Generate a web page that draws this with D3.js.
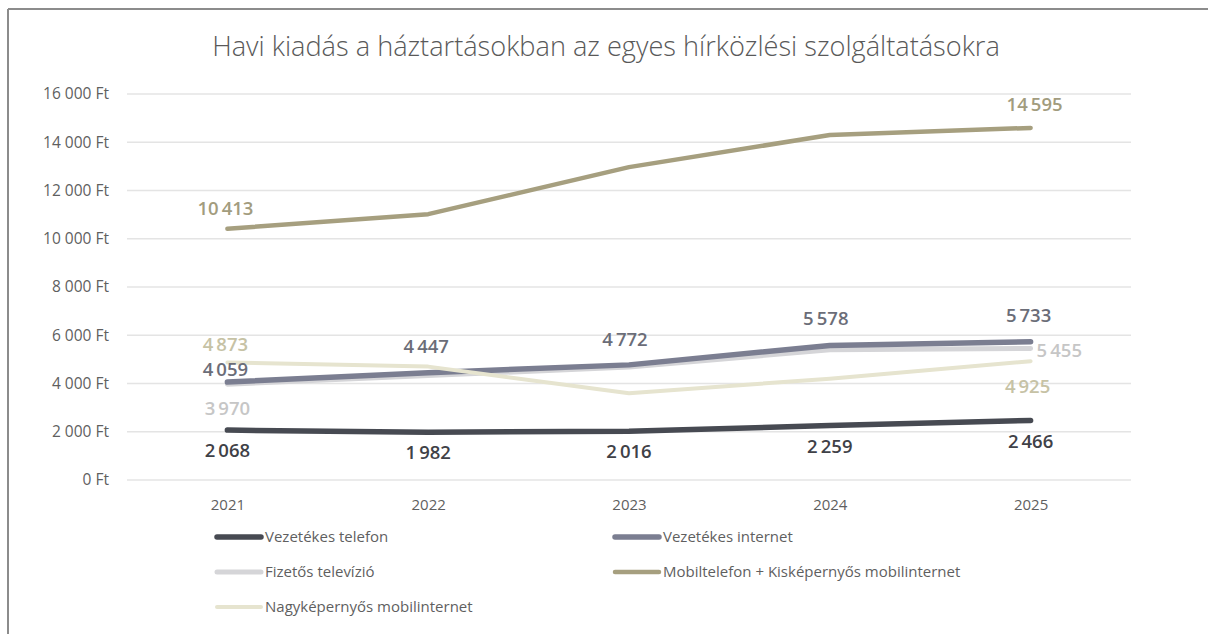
<!DOCTYPE html>
<html>
<head>
<meta charset="utf-8">
<script src="https://cdn.jsdelivr.net/npm/d3@7"></script>
<style>
  body { margin: 0; background: #fff; }
  svg { display: block; font-family: "Open Sans", sans-serif; }
</style>
</head>
<body>
<div id="holder"></div>
<script>
// data
const years = ["2021", "2022", "2023", "2024", "2025"]
const seriesNames = ["Vezetékes telefon", "Vezetékes internet", "Fizetős televízió",
  "Mobiltelefon + Kisképernyős mobilinternet", "Nagyképernyős mobilinternet"]
const telefon = [2068, 1982, 2016, 2259, 2466]
const internet = [4059, 4447, 4772, 5578, 5733]
const televizio = [3970, 4330, 4680, 5400, 5455]
const mobil = [10413, 11020, 12970, 14300, 14595]
const nagykepernyos = [4873, 4700, 3600, 4200, 4925]
const yTicks = [0, 2000, 4000, 6000, 8000, 10000, 12000, 14000, 16000]
const title = "Havi kiadás a háztartásokban az egyes hírközlési szolgáltatásokra"

const width = 1208
const height = 634

const fmt = d3.formatLocale({ decimal: ",", thousands: "\u2009", grouping: [3], currency: ["", " Ft"] }).format(",d")
const fmtAxis = d3.formatLocale({ decimal: ",", thousands: " ", grouping: [3], currency: ["", ""] }).format(",d")

// which points get a label and where (dx, dy from the point, anchor)
const series = [
  { name: seriesNames[0], values: telefon, line: "#474a52", label: "#3f4147", w: 5.5,
    labels: [[0, 27, "middle"], [0, 27, "middle"], [0, 27, "middle"], [0, 27, "middle"], [0, 27, "middle"]] },
  { name: seriesNames[2], values: televizio, line: "#d5d5d8", label: "#c6c6c6", w: 5,
    labels: [[0, 31, "middle"], null, null, null, [6, 9, "start"]] },
  { name: seriesNames[1], values: internet, line: "#7b7e91", label: "#6b6d78", w: 5.5,
    labels: [[-2, -6, "middle"], [-2, -20, "middle"], [-4, -19, "middle"], [-4, -20, "middle"], [-2, -20, "middle"]] },
  { name: seriesNames[3], values: mobil, line: "#a69f7f", label: "#a29c7e", w: 4.5,
    labels: [[-2, -14, "middle"], null, null, null, [4, -17, "middle"]] },
  { name: seriesNames[4], values: nagykepernyos, line: "#e6e4cf", label: "#c6c2a5", w: 4,
    labels: [[-2, -11, "middle"], null, null, null, [-3, 32, "middle"]] }
]

const svg = d3.select("#holder")
  .append("svg")
  .attr("width", width)
  .attr("height", height)

// screenshot frame
svg.append("line").attr("x1", 8).attr("x2", width).attr("y1", 9).attr("y2", 9)
  .attr("stroke", "#8c8c8c").attr("stroke-width", 2)
svg.append("line").attr("x1", 8).attr("x2", 8).attr("y1", 9).attr("y2", height)
  .attr("stroke", "#8c8c8c").attr("stroke-width", 2)

const x = d3.scalePoint().domain(years).range([127, 1131]).padding(0.5)
const y = d3.scaleLinear().domain([0, 16000]).range([480, 94])

// title, fitted to the width it has in the picture
const t = svg.append("text")
  .attr("x", 606)
  .attr("y", 56)
  .attr("text-anchor", "middle")
  .attr("fill", "#595959")
  .attr("font-weight", 300)
  .attr("font-size", 25)
  .text(title)
const tl = t.node().getComputedTextLength()
t.attr("font-size", 25 * 788 / tl)

// grid
svg.append("g")
  .selectAll("line")
  .data(yTicks)
  .enter()
  .append("line")
  .attr("x1", 127)
  .attr("x2", 1131)
  .attr("y1", d => y(d))
  .attr("y2", d => y(d))
  .attr("stroke", "#e4e4e4")
  .attr("stroke-width", 1.5)

// y axis
const yAxis = svg.append("g")
  .attr("transform", "translate(112,0)")
  .call(d3.axisLeft(y).tickValues(yTicks).tickSize(0).tickPadding(3).tickFormat(d => fmtAxis(d) + " Ft"))
yAxis.select(".domain").remove()
yAxis.selectAll("text")
  .attr("font-family", "Open Sans")
  .attr("font-size", 15.5)
  .attr("fill", "#5f5f5f")

// x axis
const xAxis = svg.append("g")
  .attr("transform", "translate(0,480)")
  .call(d3.axisBottom(x).tickSize(0).tickPadding(19))
xAxis.select(".domain").remove()
xAxis.selectAll("text")
  .attr("font-family", "Open Sans")
  .attr("font-size", 15)
  .attr("fill", "#5f5f5f")

const line = d3.line()
  .x((d, i) => x(years[i]))
  .y(d => y(d))

svg.append("g")
  .selectAll("path")
  .data(series)
  .enter()
  .append("path")
  .attr("d", d => line(d.values))
  .attr("fill", "none")
  .attr("stroke", d => d.line)
  .attr("stroke-width", d => d.w)
  .attr("stroke-linecap", "round")
  .attr("stroke-linejoin", "round")

// data labels
series.forEach(s => {
  svg.append("g")
    .selectAll("text")
    .data(s.values.map((v, i) => ({ v: v, i: i, p: s.labels[i] })).filter(d => d.p))
    .enter()
    .append("text")
    .attr("x", d => x(years[d.i]) + d.p[0])
    .attr("y", d => y(d.v) + d.p[1])
    .attr("text-anchor", d => d.p[2])
    .attr("font-size", 18.5)
    .attr("font-weight", 600)
    .attr("fill", s.label)
    .text(d => fmt(d.v))
})

// legend
const legendOrder = [0, 2, 1, 3, 4]
const legend = svg.append("g")
  .selectAll("g")
  .data(legendOrder.map(k => series[k]))
  .enter()
  .append("g")
  .attr("transform", (d, i) => {
    const n = seriesNames.indexOf(d.name)
    return "translate(" + (n % 2 == 0 ? 217 : 615) + "," + (537 + Math.floor(n / 2) * 35) + ")"
  })
legend.append("line")
  .attr("x1", 0)
  .attr("x2", 44)
  .attr("stroke", d => d.line)
  .attr("stroke-width", d => d.w)
  .attr("stroke-linecap", "round")
legend.append("text")
  .attr("x", 48)
  .attr("y", 5)
  .attr("font-size", 15)
  .attr("fill", "#5f5f5f")
  .text(d => d.name)
</script>
</body>
</html>
